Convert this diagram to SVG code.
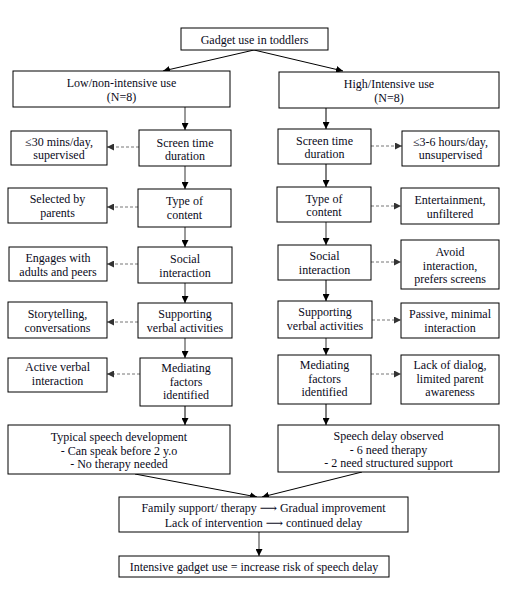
<svg xmlns="http://www.w3.org/2000/svg" width="509" height="589" viewBox="0 0 509 589">
<defs>
<style>
.box{fill:#fff;stroke:#000;stroke-width:1}
text{font-family:"Liberation Serif","DejaVu Serif",serif;font-size:12px;fill:#0a0a1a;text-anchor:middle}
.solid{stroke:#000;stroke-width:1;fill:none}
.gsolid{stroke:#555;stroke-width:1.2;fill:none}
.dash{stroke:#777;stroke-width:1;stroke-dasharray:3,2;fill:none}
</style>
<marker id="ah" viewBox="0 0 10 10" refX="10" refY="5" markerWidth="7" markerHeight="7" markerUnits="userSpaceOnUse" orient="auto"><path d="M0,0 L10,5 L0,10 z" fill="#000"/></marker>
<marker id="ahg" viewBox="0 0 10 10" refX="10" refY="5" markerWidth="7" markerHeight="7" markerUnits="userSpaceOnUse" orient="auto"><path d="M0,0 L10,5 L0,10 z" fill="#333"/></marker>
</defs>
<rect width="509" height="589" fill="#fff"/>
<g id="connectors">
<line class="solid" x1="254" y1="50" x2="163" y2="71" marker-end="url(#ah)"/>
<line class="solid" x1="254" y1="50" x2="343" y2="71" marker-end="url(#ah)"/>
<line class="gsolid" x1="185" y1="107" x2="185" y2="130" marker-end="url(#ah)"/>
<line class="gsolid" x1="185" y1="166" x2="185" y2="189" marker-end="url(#ah)"/>
<line class="gsolid" x1="185" y1="227" x2="185" y2="247" marker-end="url(#ah)"/>
<line class="gsolid" x1="185" y1="283" x2="185" y2="303" marker-end="url(#ah)"/>
<line class="gsolid" x1="185" y1="338" x2="185" y2="358" marker-end="url(#ah)"/>
<line class="solid" x1="185" y1="406" x2="185" y2="425" marker-end="url(#ah)"/>
<line class="solid" x1="326" y1="108" x2="326" y2="129" marker-end="url(#ah)"/>
<line class="solid" x1="326" y1="164" x2="326" y2="187" marker-end="url(#ah)"/>
<line class="gsolid" x1="326" y1="222" x2="326" y2="245" marker-end="url(#ah)"/>
<line class="solid" x1="326" y1="280" x2="326" y2="301" marker-end="url(#ah)"/>
<line class="gsolid" x1="326" y1="338" x2="326" y2="355" marker-end="url(#ah)"/>
<line class="solid" x1="326" y1="404" x2="326" y2="425" marker-end="url(#ah)"/>
<line class="dash" x1="139" y1="147" x2="107" y2="147" marker-end="url(#ahg)"/>
<line class="dash" x1="138" y1="207" x2="107" y2="207" marker-end="url(#ahg)"/>
<line class="dash" x1="138" y1="264" x2="107" y2="264" marker-end="url(#ahg)"/>
<line class="dash" x1="138" y1="322" x2="107" y2="322" marker-end="url(#ahg)"/>
<line class="dash" x1="140" y1="374" x2="107" y2="374" marker-end="url(#ahg)"/>
<line class="dash" x1="371" y1="146" x2="402" y2="146" marker-end="url(#ahg)"/>
<line class="dash" x1="371" y1="206" x2="401" y2="206" marker-end="url(#ahg)"/>
<line class="dash" x1="371" y1="262" x2="401" y2="262" marker-end="url(#ahg)"/>
<line class="dash" x1="372" y1="320" x2="401" y2="320" marker-end="url(#ahg)"/>
<line class="dash" x1="371" y1="374" x2="401" y2="374" marker-end="url(#ahg)"/>
<line class="solid" x1="135" y1="474" x2="257" y2="497" marker-end="url(#ah)"/>
<line class="solid" x1="362" y1="472" x2="262" y2="497" marker-end="url(#ah)"/>
<line class="gsolid" x1="259" y1="532" x2="259" y2="556" marker-end="url(#ah)"/>
</g>
<g id="n-top"><rect class="box" x="181" y="28" width="147" height="22"/><text x="254.5" y="43.5">Gadget use in toddlers</text></g>
<g id="n-low"><rect class="box" x="13" y="71" width="217" height="36"/><text x="121.5" y="87">Low/non-intensive use</text><text x="121.5" y="100.5">(N=8)</text></g>
<g id="n-high"><rect class="box" x="279" y="72" width="220" height="36"/><text x="389" y="88">High/Intensive use</text><text x="389" y="101.5">(N=8)</text></g>

<g id="n-l-dur"><rect class="box" x="11" y="131" width="96" height="34"/><text x="59" y="146">≤30 mins/day,</text><text x="59" y="159">supervised</text></g>
<g id="n-l-screen"><rect class="box" x="139" y="130" width="92" height="36"/><text x="185" y="146.5">Screen time</text><text x="185" y="159.5">duration</text></g>
<g id="n-r-screen"><rect class="box" x="278" y="129" width="93" height="35"/><text x="324.5" y="144.5">Screen time</text><text x="324.5" y="157.5">duration</text></g>
<g id="n-r-dur"><rect class="box" x="402" y="131" width="97" height="35"/><text x="450.5" y="146">≤3-6 hours/day,</text><text x="450.5" y="159">unsupervised</text></g>

<g id="n-l-sel"><rect class="box" x="8" y="188" width="99" height="35"/><text x="57.5" y="203">Selected by</text><text x="57.5" y="216.5">parents</text></g>
<g id="n-l-type"><rect class="box" x="138" y="189" width="93" height="38"/><text x="184.5" y="205">Type of</text><text x="184.5" y="218.5">content</text></g>
<g id="n-r-type"><rect class="box" x="277" y="187" width="94" height="35"/><text x="324" y="202.5">Type of</text><text x="324" y="215.5">content</text></g>
<g id="n-r-ent"><rect class="box" x="401" y="188" width="98" height="36"/><text x="450" y="204">Entertainment,</text><text x="450" y="217.5">unfiltered</text></g>

<g id="n-l-eng"><rect class="box" x="9" y="247" width="98" height="34"/><text x="58" y="262">Engages with</text><text x="58" y="275.5">adults and peers</text></g>
<g id="n-l-soc"><rect class="box" x="138" y="247" width="94" height="36"/><text x="185" y="263">Social</text><text x="185" y="276.5">interaction</text></g>
<g id="n-r-soc"><rect class="box" x="278" y="245" width="93" height="35"/><text x="324.5" y="260">Social</text><text x="324.5" y="273.5">interaction</text></g>
<g id="n-r-avoid"><rect class="box" x="401" y="240" width="98" height="49"/><text x="450" y="256">Avoid</text><text x="450" y="269.5">interaction,</text><text x="450" y="283">prefers screens</text></g>

<g id="n-l-story"><rect class="box" x="8" y="302" width="99" height="36"/><text x="57.5" y="318">Storytelling,</text><text x="57.5" y="331.5">conversations</text></g>
<g id="n-l-sup"><rect class="box" x="138" y="303" width="94" height="35"/><text x="185" y="318">Supporting</text><text x="185" y="331.5">verbal activities</text></g>
<g id="n-r-sup"><rect class="box" x="278" y="301" width="94" height="37"/><text x="325" y="316">Supporting</text><text x="325" y="329.5">verbal activities</text></g>
<g id="n-r-pass"><rect class="box" x="401" y="303" width="98" height="35"/><text x="450" y="318">Passive, minimal</text><text x="450" y="331.5">interaction</text></g>

<g id="n-l-act"><rect class="box" x="8" y="358" width="99" height="34"/><text x="57.5" y="371">Active verbal</text><text x="57.5" y="384.5">interaction</text></g>
<g id="n-l-med"><rect class="box" x="140" y="358" width="92" height="48"/><text x="186" y="372">Mediating</text><text x="186" y="385.5">factors</text><text x="186" y="399">identified</text></g>
<g id="n-r-med"><rect class="box" x="278" y="355" width="93" height="49"/><text x="324.5" y="369">Mediating</text><text x="324.5" y="382.5">factors</text><text x="324.5" y="396">identified</text></g>
<g id="n-r-lack"><rect class="box" x="401" y="355" width="98" height="49"/><text x="450" y="369">Lack of dialog,</text><text x="450" y="382.5">limited parent</text><text x="450" y="396">awareness</text></g>

<g id="n-typical"><rect class="box" x="8" y="425" width="222" height="49"/><text x="119" y="441">Typical speech development</text><text x="119" y="454.5">- Can speak before 2 y.o</text><text x="119" y="468">- No therapy needed</text></g>
<g id="n-delay"><rect class="box" x="278" y="425" width="221" height="47"/><text x="388.5" y="440">Speech delay observed</text><text x="388.5" y="453.5">- 6 need therapy</text><text x="388.5" y="467">- 2 need structured support</text></g>

<g id="n-family"><rect class="box" x="119" y="497" width="289" height="35"/><text x="263.5" y="512">Family support/ therapy ⟶ Gradual improvement</text><text x="263.5" y="526.5">Lack of intervention ⟶ continued delay</text></g>
<g id="n-final"><rect class="box" x="119" y="556" width="270" height="21"/><text x="254" y="570.5">Intensive gadget use = increase risk of speech delay</text></g>
</svg>
